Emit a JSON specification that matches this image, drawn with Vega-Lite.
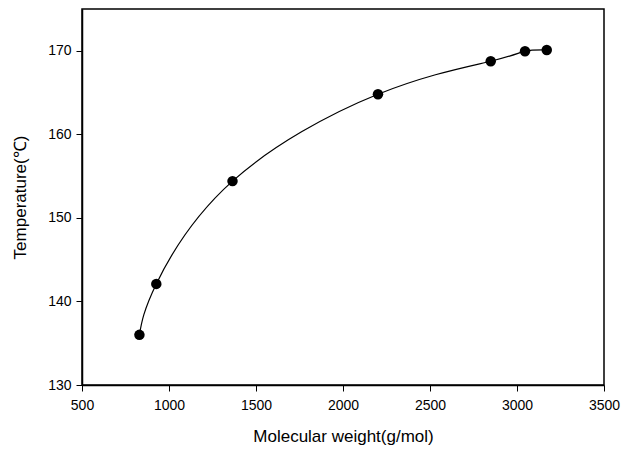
{
  "$schema": "https://vega.github.io/schema/vega-lite/v6.json",
  "width": 522,
  "height": 376,
  "autosize": {"type": "none"},
  "padding": {"left": 82, "top": 9, "right": 27, "bottom": 65},
  "background": "white",
  "config": {
    "font": "Liberation Sans",
    "view": {"stroke": "black", "strokeWidth": 1.5},
    "axis": {
      "grid": false,
      "labelFlush": false,
      "labelOverlap": false,
      "domainColor": "black",
      "domainWidth": 1.5,
      "tickColor": "black",
      "tickWidth": 1,
      "tickSize": 6,
      "labelColor": "black",
      "labelFontSize": 14,
      "labelFont": "Liberation Sans",
      "titleFont": "Liberation Sans",
      "titleFontSize": 17,
      "titleFontWeight": "normal",
      "titleColor": "black"
    }
  },
  "data": {
    "values": [
      {"mw": 830, "temp": 136.0},
      {"mw": 927, "temp": 142.1},
      {"mw": 1365, "temp": 154.4},
      {"mw": 2201, "temp": 164.8},
      {"mw": 2849, "temp": 168.75},
      {"mw": 3046, "temp": 169.95},
      {"mw": 3171, "temp": 170.1}
    ]
  },
  "encoding": {
    "x": {
      "field": "mw",
      "type": "quantitative",
      "scale": {"domain": [500, 3500], "nice": false, "zero": false},
      "axis": {"values": [500, 1000, 1500, 2000, 2500, 3000, 3500], "title": "Molecular weight(g/mol)", "labelPadding": 7, "titlePadding": 16, "format": "d"}
    },
    "y": {
      "field": "temp",
      "type": "quantitative",
      "scale": {"domain": [130, 175], "nice": false, "zero": false},
      "axis": {"values": [130, 140, 150, 160, 170], "title": "Temperature(℃)", "labelPadding": 5, "titlePadding": 18}
    }
  },
  "layer": [
    {"mark": {"type": "line", "interpolate": "natural", "color": "black", "strokeWidth": 1.2}},
    {"mark": {"type": "point", "filled": true, "color": "black", "opacity": 1, "size": 110}}
  ]
}
